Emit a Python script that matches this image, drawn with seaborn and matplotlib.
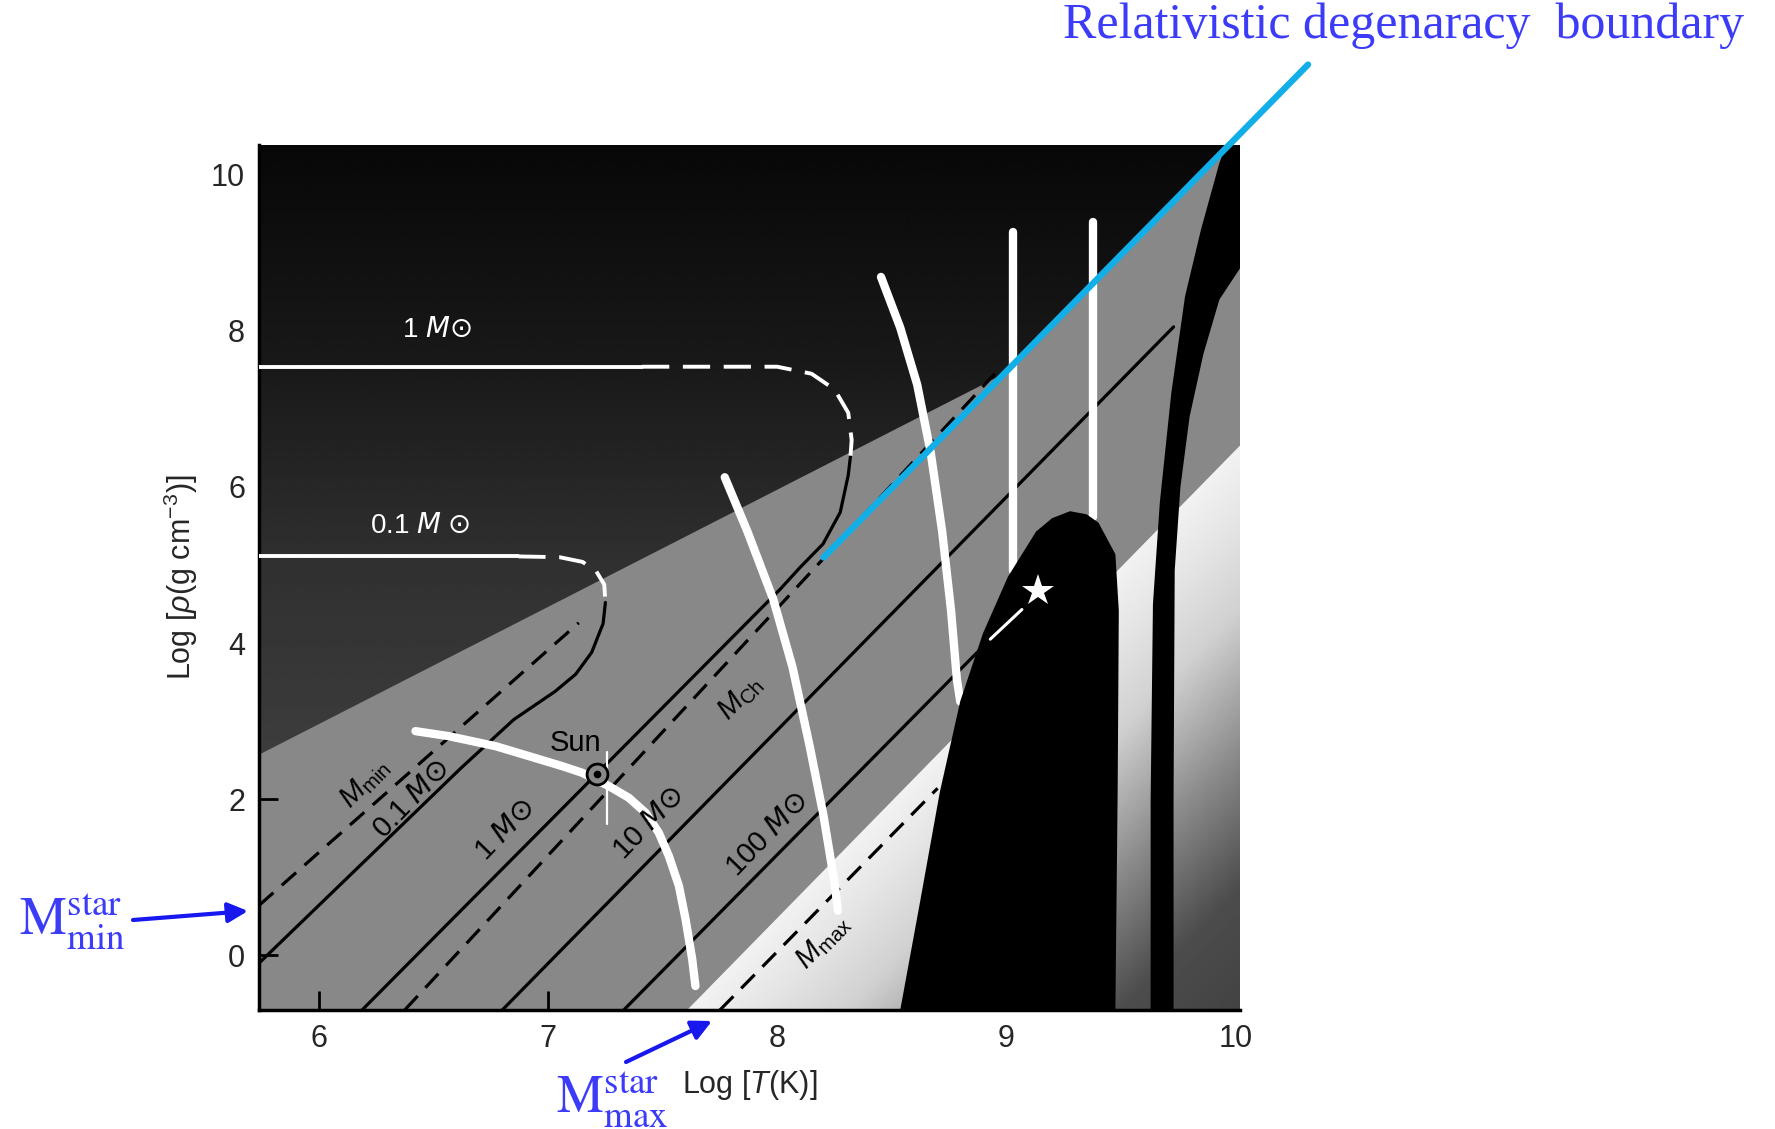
import numpy as np
import pandas as pd
import seaborn as sns
import matplotlib
matplotlib.use('Agg')
import matplotlib.pyplot as plt
from matplotlib.patches import Polygon

sns.set_theme(style="ticks")
plt.rcParams['font.family'] = ['Liberation Sans', 'DejaVu Sans']
plt.rcParams['mathtext.fontset'] = 'custom'
plt.rcParams['mathtext.rm'] = 'Liberation Sans'
plt.rcParams['mathtext.it'] = 'Liberation Sans:italic'
plt.rcParams['mathtext.bf'] = 'Liberation Sans:bold'

# axes
x_ticks = [6, 7, 8, 9, 10]
y_ticks = [0, 2, 4, 6, 8, 10]
x_range = [5.738, 10.02]
y_range = [-0.70, 10.38]

# region boundaries (log T, log rho)
degen_x = [5.738, 8.97, 9.96]          # dark (degenerate) region lower edge
degen_y = [2.57, 7.42, 10.38]
light_x = [7.607, 10.02]               # light wedge upper edge
light_y = [-0.70, 6.53]
blob_x = [8.537, 8.621, 8.710, 8.799, 8.898, 9.007, 9.130, 9.20, 9.278, 9.35, 9.402, 9.476, 9.491, 9.486, 9.476]
blob_y = [-0.70, 0.645, 2.095, 3.255, 4.124, 4.849, 5.429, 5.60, 5.689, 5.65, 5.544, 5.138, 4.414, 2.095, -0.70]
band_left_x = [9.96, 9.93, 9.85, 9.78, 9.72, 9.67, 9.64, 9.63, 9.63]
band_left_y = [10.38, 10.15, 9.30, 8.44, 7.2, 5.8, 4.5, 2.0, -0.70]
band_right_x = [9.73, 9.73, 9.735, 9.76, 9.80, 9.86, 9.93, 10.02, 10.02]
band_right_y = [-0.70, 2.0, 4.93, 6.0, 6.9, 7.7, 8.4, 8.8, 10.38]

# black mass lines
mmin_x, mmin_y = [5.738, 7.134], [0.64, 4.26]
m01_x = [5.738, 6.62, 6.85, 7.03, 7.12, 7.19, 7.24, 7.25]
m01_y = [-0.10, 2.40, 3.02, 3.38, 3.60, 3.88, 4.25, 4.52]
m1_x = [6.188, 7.214, 8.013, 8.10, 8.20, 8.275, 8.31, 8.32]
m1_y = [-0.70, 2.33, 4.69, 4.97, 5.27, 5.675, 6.15, 6.40]
mch_x, mch_y = [6.374, 8.95], [-0.70, 7.45]
m10_x, m10_y = [6.80, 9.73], [-0.70, 8.05]
m100_x, m100_y = [7.33, 8.93], [-0.70, 4.05]
m100_end_x, m100_end_y = [8.93, 9.068], [4.05, 4.43]
mmax_x, mmax_y = [7.75, 8.70], [-0.70, 2.14]

# white evolution tracks
t1_x, t1_y = [5.738, 7.41], [7.54, 7.54]
t1d_x = [7.41, 8.0, 8.15, 8.25, 8.31, 8.325, 8.32]
t1d_y = [7.54, 7.54, 7.45, 7.25, 6.95, 6.6, 6.40]
t01_x, t01_y = [5.738, 6.87], [5.11, 5.11]
t01d_x = [6.87, 7.05, 7.15, 7.21, 7.245, 7.25]
t01d_y = [5.11, 5.10, 5.04, 4.92, 4.75, 4.52]
ign_h_x = [6.421, 6.566, 6.770, 6.916, 7.061, 7.148, 7.265, 7.352, 7.425, 7.483, 7.527, 7.571, 7.600, 7.629, 7.643]
ign_h_y = [2.872, 2.808, 2.680, 2.552, 2.424, 2.339, 2.168, 2.019, 1.827, 1.571, 1.272, 0.888, 0.461, -0.051, -0.393]
ign_he_x = [7.771, 7.870, 7.983, 8.067, 8.142, 8.201, 8.250, 8.265]
ign_he_y = [6.124, 5.429, 4.558, 3.689, 2.675, 1.805, 0.935, 0.572]
ign_c_x = [8.453, 8.537, 8.611, 8.670, 8.720, 8.759, 8.784, 8.799]
ign_c_y = [8.69, 8.04, 7.31, 6.44, 5.43, 4.41, 3.54, 3.25]
ign_v1_x, ign_v1_y = [9.031, 9.031], [9.27, 4.92]
ign_v2_x, ign_v2_y = [9.38, 9.38], [9.40, 5.62]
sun_tick_x, sun_tick_y = [7.258, 7.258], [2.60, 1.68]

sun_x, sun_y = 7.214, 2.317
star_x, star_y = 9.14, 4.67

# relativistic degeneracy boundary (blue)
rel_x, rel_y = [8.202, 10.317], [5.096, 11.41]

# in-plot labels
black_labels = [r'$M_{\rm min}$', r'0.1 $M$$\odot$', r'1 $M$$\odot$', r'10 $M$$\odot$',
                r'100 $M$$\odot$', r'$M_{\rm Ch}$', r'$M_{\rm max}$']
black_lab_x = [6.20, 6.406, 6.814, 7.44, 7.955, 7.838, 8.20]
black_lab_y = [2.21, 2.00, 1.61, 1.70, 1.56, 3.30, 0.17]
white_labels = [r'1 $M$$\odot$', r'0.1 $M$ $\odot$']
white_lab_x = [6.515, 6.44]
white_lab_y = [8.01, 5.50]

mid_gray = '#888888'
blue_text = '#3c3cf8'
blue_arrow = '#1818ee'
cyan = '#12aee8'

fig = plt.figure(figsize=(17.75, 11.29), dpi=100)
ax = fig.add_axes([259 / 1775, 1 - 1010 / 1129, 981 / 1775, 865 / 1129])
ax.set_facecolor(mid_gray)
ext = [x_range[0], x_range[1], y_range[0], y_range[1]]

# dark region with vertical shading
yy = np.linspace(y_range[0], y_range[1], 300)
dark_shade = np.interp(yy, [-1, 2.5, 5, 7.5, 10.4], [0.26, 0.24, 0.19, 0.10, 0.03])
im = ax.imshow(dark_shade[:, None], extent=ext, origin='lower', aspect='auto',
               cmap='gray', vmin=0, vmax=1, interpolation='bilinear', zorder=1)
dark_poly = Polygon(list(zip(degen_x, degen_y)) + [(x_range[0], y_range[1])],
                    closed=True, transform=ax.transData, fc='none', ec='none')
ax.add_patch(dark_poly)
im.set_clip_path(dark_poly)

# light wedge, fading away from its edge
gx, gy = np.meshgrid(np.linspace(x_range[0], x_range[1], 400), np.linspace(y_range[0], y_range[1], 400))
edge_x = np.interp(gy, light_y, light_x)
light_shade = np.interp(gx - edge_x, [0, 0.3, 0.7, 1.3, 1.9, 3.0], [0.95, 0.90, 0.82, 0.55, 0.30, 0.22])
im2 = ax.imshow(light_shade, extent=ext, origin='lower', aspect='auto',
                cmap='gray', vmin=0, vmax=1, interpolation='bilinear', zorder=1)
light_poly = Polygon([(light_x[0], light_y[0]), (light_x[1], light_y[1]), (x_range[1], y_range[0])],
                     closed=True, transform=ax.transData, fc='none', ec='none')
ax.add_patch(light_poly)
im2.set_clip_path(light_poly)


def draw(xs, ys, color, lw, ls='-', z=3, **kw):
    df = pd.DataFrame({'x': xs, 'y': ys})
    sns.lineplot(data=df, x='x', y='y', sort=False, estimator=None, color=color,
                 linewidth=lw, linestyle=ls, zorder=z, ax=ax, **kw)


dash_k = (0, (6, 3.5))
dash_w = (0, (7, 3.5))

# black lines of constant mass
draw(mmin_x, mmin_y, 'black', 2.3, dash_k)
draw(m01_x, m01_y, 'black', 2.3)
draw(m1_x, m1_y, 'black', 2.3)
draw(mch_x, mch_y, 'black', 2.3, dash_k)
draw(m10_x, m10_y, 'black', 2.3)
draw(m100_x, m100_y, 'black', 2.3)
draw(mmax_x, mmax_y, 'black', 2.3, dash_k)

# white tracks and ignition curves
draw(t1_x, t1_y, 'white', 2.8, z=4)
draw(t1d_x, t1d_y, 'white', 2.8, dash_w, z=4)
draw(t01_x, t01_y, 'white', 2.8, z=4)
draw(t01d_x, t01d_y, 'white', 2.8, dash_w, z=4)
for xs, ys in [(ign_h_x, ign_h_y), (ign_he_x, ign_he_y), (ign_c_x, ign_c_y),
               (ign_v1_x, ign_v1_y), (ign_v2_x, ign_v2_y)]:
    draw(xs, ys, 'white', 6, z=4, solid_joinstyle='round')
draw(sun_tick_x, sun_tick_y, 'white', 1.6, z=4)

# black blob and band
ax.fill(blob_x, blob_y, color='black', lw=0, zorder=5)
ax.fill(band_left_x + band_right_x, band_left_y + band_right_y, color='black', lw=0, zorder=5)
draw(m100_end_x, m100_end_y, 'white', 2.2, z=6)
ax.plot(star_x, star_y, marker='*', color='white', markersize=24, mew=0, zorder=7)

# the Sun
ax.plot(sun_x, sun_y, marker='o', ms=15, mfc=mid_gray, mec='black', mew=2, zorder=7)
ax.plot(sun_x, sun_y, marker='o', ms=4.5, color='black', zorder=8)
ax.text(7.12, 2.72, 'Sun', fontsize=21, ha='center', va='center', color='black', zorder=8)

for s, x, y in zip(black_labels, black_lab_x, black_lab_y):
    mf = 'dejavusans' if 'odot' in s else 'custom'
    ax.text(x, y, s, fontsize=21, rotation=46, rotation_mode='anchor', math_fontfamily=mf,
            ha='center', va='center', color='black', zorder=8)
for s, x, y in zip(white_labels, white_lab_x, white_lab_y):
    ax.text(x, y, s, fontsize=20, ha='center', va='center', color='white',
            math_fontfamily='dejavusans', zorder=8)

# blue boundary line
draw(rel_x, rel_y, cyan, 4.6, z=9, clip_on=False)

ax.set_xlim(x_range)
ax.set_ylim(y_range)
ax.set_xticks(x_ticks)
ax.set_yticks(y_ticks)
ax.tick_params(direction='in', length=14, width=2, labelsize=22, pad=10, color='black')
for side in ['top', 'right']:
    ax.spines[side].set_visible(False)
for side in ['left', 'bottom']:
    ax.spines[side].set_linewidth(2.5)
    ax.spines[side].set_color('black')
ax.set_xlabel('Log [$T$(K)]', fontsize=22, labelpad=10)
ax.set_ylabel(r'Log [$\rho$(g cm$^{-3}$)]', fontsize=22, labelpad=8)

# blue annotations
fig.text(0.7907, 0.977, 'Relativistic degenaracy  boundary', fontsize=36,
         family='Liberation Serif', color=blue_text, ha='center', va='center')
fig.text(72 / 1775, 1 - 922 / 1129, r'$\mathrm{M}_{\mathrm{min}}^{\mathrm{star}}$', fontsize=38,
         math_fontfamily='stix', color=blue_text, ha='center', va='center')
fig.text(612 / 1775, 1 - 1100 / 1129, r'$\mathrm{M}_{\mathrm{max}}^{\mathrm{star}}$', fontsize=38,
         math_fontfamily='stix', color=blue_text, ha='center', va='center')
arrow = dict(arrowstyle='-|>', color=blue_arrow, lw=3, mutation_scale=30, shrinkA=0, shrinkB=0)
ax.annotate('', xy=(248 / 1775, 1 - 911 / 1129), xytext=(133 / 1775, 1 - 920 / 1129),
            xycoords='figure fraction', textcoords='figure fraction', arrowprops=arrow,
            annotation_clip=False)
ax.annotate('', xy=(712 / 1775, 1 - 1021 / 1129), xytext=(626 / 1775, 1 - 1062 / 1129),
            xycoords='figure fraction', textcoords='figure fraction', arrowprops=arrow,
            annotation_clip=False)

fig.savefig('out.png', dpi=100)
